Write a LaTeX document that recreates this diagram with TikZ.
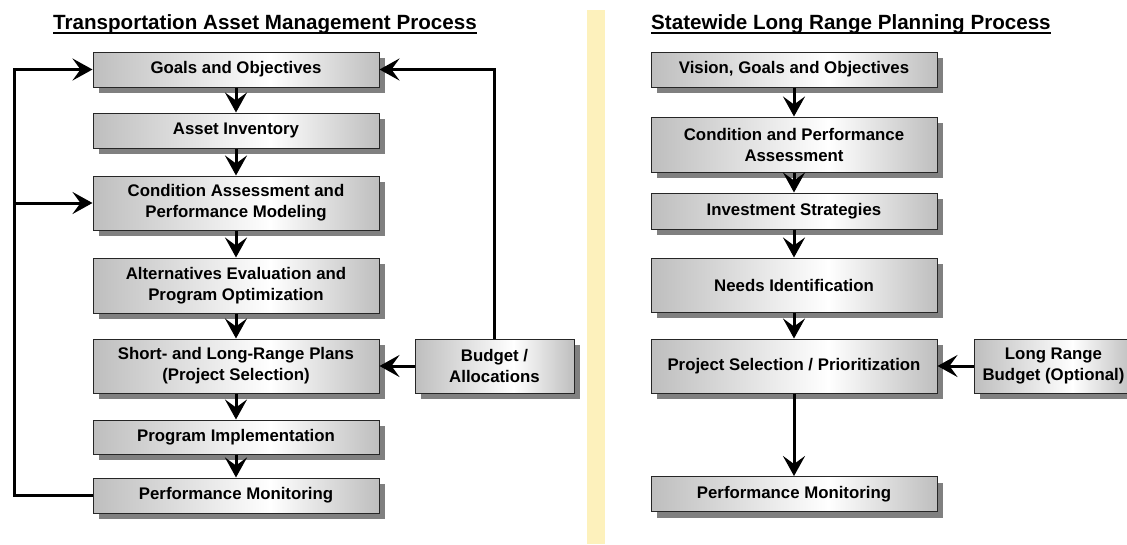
\documentclass[tikz,border=0pt]{standalone}
\usepackage{fontspec}
\setmainfont{Liberation Sans}
\usetikzlibrary{arrows.meta,shadows}
\definecolor{divcol}{RGB}{253,241,188}
\definecolor{boxgray}{RGB}{190,190,190}
\pgfdeclarehorizontalshading{boxshade}{100bp}{color(0bp)=(boxgray); color(25bp)=(boxgray); color(56bp)=(white); color(75bp)=(boxgray); color(100bp)=(boxgray)}
\tikzset{
  box/.style={draw=black!85, line width=1pt, shading=boxshade, align=center,
    inner sep=2pt, font=\fontsize{16.8}{21}\selectfont\bfseries,
    drop shadow={shadow xshift=6pt, shadow yshift=-6pt, fill=black!50, opacity=1}},
  wide/.style={minimum width=286pt},
  narrow/.style={minimum width=159pt},
  arr/.style={line width=3pt, -{Stealth[length=20pt,width=22pt,inset=8pt]}},
  ttl/.style={inner sep=0pt, anchor=base west, font=\fontsize{20.6}{24}\selectfont\bfseries}
}
\begin{document}
\begin{tikzpicture}[x=1pt,y=-1pt]
\clip (0,0) rectangle (1127,544);
\fill[white] (0,0) rectangle (1127,544);
\fill[divcol] (587,10) rectangle (605,544);
% titles
\node[ttl] (t1) at (53,29) {Transportation Asset Management Process};
\node[ttl] (t2) at (651,29) {Statewide Long Range Planning Process};
\draw[line width=2pt] ([yshift=-4pt]t1.base west) -- ([yshift=-4pt]t1.base east);
\draw[line width=2pt] ([yshift=-4pt]t2.base west) -- ([yshift=-4pt]t2.base east);
% left column
\node[box,wide,minimum height=35pt] (g1) at (236,69.5) {Goals and Objectives};
\node[box,wide,minimum height=35pt] (ai) at (236,130.5) {Asset Inventory};
\node[box,wide,minimum height=54pt] (ca) at (236,203) {Condition Assessment and\\Performance Modeling};
\node[box,wide,minimum height=55pt] (ae) at (236,285.5) {Alternatives Evaluation and\\Program Optimization};
\node[box,wide,minimum height=54pt] (sl) at (236,366) {Short- and Long-Range Plans\\(Project Selection)};
\node[box,wide,minimum height=34pt] (pi) at (236,437) {Program Implementation};
\node[box,wide,minimum height=35pt] (pm) at (236,495.5) {Performance Monitoring};
\node[box,narrow,minimum height=54pt] (bu) at (494.5,366) {Budget /\\Allocations};
% right column
\node[box,wide,minimum height=35pt] (vg) at (794,69.5) {Vision, Goals and Objectives};
\node[box,wide,minimum height=55pt] (cp) at (794,144.5) {Condition and Performance\\Assessment};
\node[box,wide,minimum height=36pt] (is) at (794,211) {Investment Strategies};
\node[box,wide,minimum height=54pt] (ni) at (794,285) {Needs Identification};
\node[box,wide,minimum height=54pt] (ps) at (794,366) {Project Selection / Prioritization};
\node[box,wide,minimum height=35pt] (pm2) at (794,494) {Performance Monitoring};
\node[box,narrow,minimum height=54pt] (lrb) at (1053.5,366) {Long Range\\Budget (Optional)};
% left connectors
\draw[arr] (g1.south) -- (ai.north);
\draw[arr] (ai.south) -- (ca.north);
\draw[arr] (ca.south) -- (ae.north);
\draw[arr] (ae.south) -- (sl.north);
\draw[arr] (sl.south) -- (pi.north);
\draw[arr] (pi.south) -- (pm.north);
\coordinate (fbx) at (14.5,0);
\draw[arr] (pm.west) -| (fbx |- ca.west) |- (g1.west);
\draw[arr] (fbx |- ca.west) -- (ca.west);
\draw[arr] (bu.north) |- (g1.east);
\draw[arr] (bu.west) -- (sl.east);
% right connectors
\draw[arr] (vg.south) -- (cp.north);
\draw[arr] (cp.south) -- (is.north);
\draw[arr] (is.south) -- (ni.north);
\draw[arr] (ni.south) -- (ps.north);
\draw[arr] (ps.south) -- (pm2.north);
\draw[arr] (lrb.west) -- (ps.east);
\end{tikzpicture}
\end{document}
